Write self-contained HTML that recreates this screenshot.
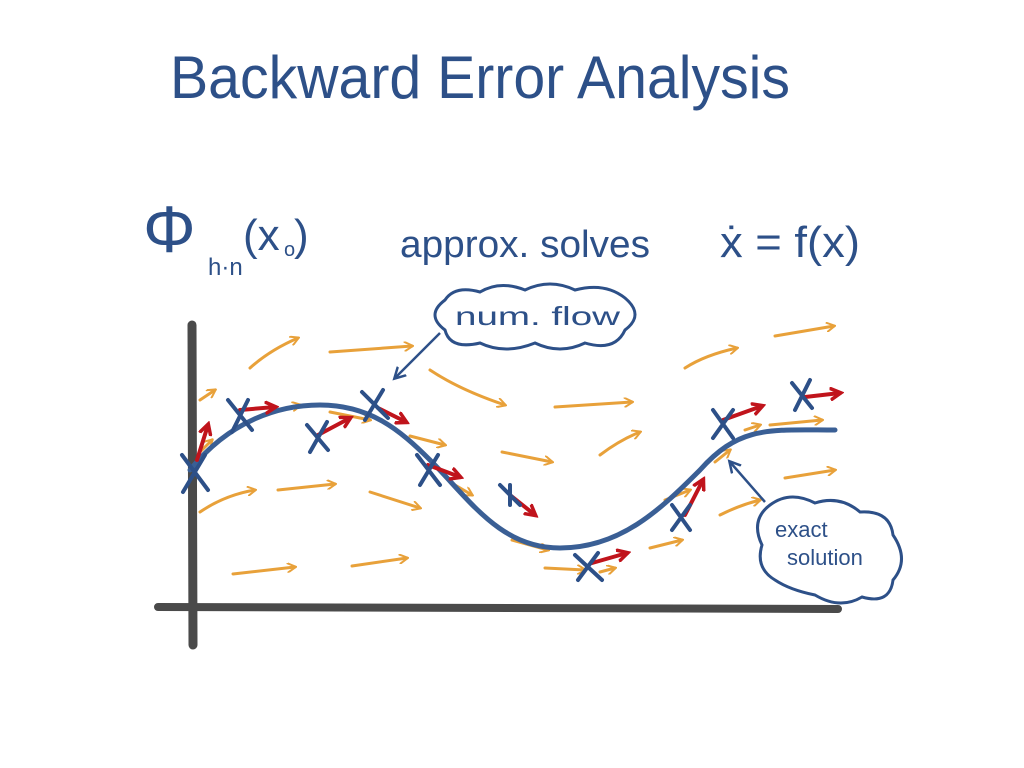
<!DOCTYPE html>
<html><head><meta charset="utf-8"><style>
html,body{margin:0;padding:0;background:#fff;}
svg{display:block;}
text{font-family:"Liberation Sans",sans-serif;fill:#2d5088;}
</style></head><body>
<svg width="1024" height="768" viewBox="0 0 1024 768" xmlns="http://www.w3.org/2000/svg">
<defs>
<marker id="oa" markerWidth="10" markerHeight="10" refX="8" refY="5" orient="auto" markerUnits="userSpaceOnUse"><path d="M0,0 L9,5 L0,10" fill="none" stroke="#e8a13a" stroke-width="2"/></marker>
<marker id="ra" markerWidth="14" markerHeight="14" refX="10" refY="7" orient="auto" markerUnits="userSpaceOnUse"><path d="M0,1 L11,7 L0,13" fill="none" stroke="#c0141c" stroke-width="3.5"/></marker>
<marker id="ba" markerWidth="14" markerHeight="14" refX="10" refY="7" orient="auto" markerUnits="userSpaceOnUse"><path d="M0,1 L11,7 L0,13" fill="none" stroke="#2d5088" stroke-width="2.5"/></marker>
</defs>
<text x="170" y="98" font-size="60" textLength="620" lengthAdjust="spacingAndGlyphs">Backward Error Analysis</text>
<text x="143" y="252" font-size="66">Φ</text>
<text x="208" y="275" font-size="24">h·n</text>
<text x="243" y="250" font-size="44">(x</text>
<text x="284" y="256" font-size="20">o</text>
<text x="294" y="250" font-size="44">)</text>
<text x="400" y="257" font-size="38" textLength="250" lengthAdjust="spacingAndGlyphs">approx. solves</text>
<text x="720" y="257" font-size="44" textLength="140" lengthAdjust="spacingAndGlyphs">ẋ = f(x)</text>
<path d="M192,325 L193,645" stroke="#4a4a4a" stroke-width="9" stroke-linecap="round"/>
<path d="M158,607 L838,609" stroke="#4a4a4a" stroke-width="8" stroke-linecap="round"/>
<g stroke="#e8a13a" stroke-width="3" fill="none" marker-end="url(#oa)" stroke-linecap="round">
<path d="M250,368 Q270,350 298,338"/>
<path d="M330,352 L412,346"/>
<path d="M200,400 L215,390"/>
<path d="M430,370 Q460,390 505,405"/>
<path d="M555,407 L632,402"/>
<path d="M685,368 Q705,355 737,348"/>
<path d="M775,336 L834,326"/>
<path d="M268,412 L300,405"/>
<path d="M330,412 L370,420"/>
<path d="M410,436 L445,445"/>
<path d="M200,452 L212,440"/>
<path d="M502,452 L552,462"/>
<path d="M600,455 Q620,440 640,432"/>
<path d="M785,478 L835,470"/>
<path d="M200,512 Q225,495 255,490"/>
<path d="M278,490 L335,484"/>
<path d="M370,492 L420,508"/>
<path d="M455,485 L472,495"/>
<path d="M512,540 L548,550"/>
<path d="M545,568 L585,570"/>
<path d="M650,548 L682,540"/>
<path d="M665,500 L690,490"/>
<path d="M715,462 L730,450"/>
<path d="M745,430 L760,425"/>
<path d="M770,425 L822,420"/>
<path d="M720,515 Q740,505 760,500"/>
<path d="M233,574 L295,567"/>
<path d="M352,566 L407,558"/>
<path d="M600,572 L615,568"/>
</g>
<path d="M190,470 C230,420 280,405 320,405 C370,405 400,430 430,460 C470,500 500,548 560,548 C620,548 660,510 700,470 C740,425 770,430 835,430" stroke="#3a5f95" stroke-width="5" fill="none" stroke-linecap="round"/>
<g stroke="#c0141c" stroke-width="4" fill="none" marker-end="url(#ra)" stroke-linecap="round">
<path d="M197,460 L208,425"/>
<path d="M240,410 L275,407"/>
<path d="M318,435 L350,418"/>
<path d="M378,408 L406,422"/>
<path d="M428,465 L460,477"/>
<path d="M510,495 L535,515"/>
<path d="M592,563 L627,553"/>
<path d="M685,515 L703,480"/>
<path d="M723,420 L762,406"/>
<path d="M805,397 L840,393"/>
</g>
<g stroke="#2d5088" stroke-width="4" stroke-linecap="round">
<path d="M182,455 L208,490 M205,455 L183,492"/>
<path d="M228,400 L252,430 M248,400 L232,432"/>
<path d="M307,425 L328,450 M327,422 L310,452"/>
<path d="M362,392 L388,418 M383,390 L365,420"/>
<path d="M417,455 L440,485 M438,455 L420,485"/>
<path d="M500,485 L520,505 M510,485 L510,505"/>
<path d="M575,555 L602,580 M598,553 L578,580"/>
<path d="M672,505 L690,530 M690,505 L672,530"/>
<path d="M713,410 L733,438 M733,410 L713,438"/>
<path d="M792,383 L812,408 M810,380 L795,410"/>
</g>
<path d="M445,300 Q455,285 480,292 Q500,280 525,290 Q550,278 575,290 Q605,282 625,298 Q645,315 625,330 Q615,352 585,343 Q560,355 535,343 Q505,355 480,343 Q450,350 445,330 Q425,315 445,300 Z" fill="none" stroke="#2d5088" stroke-width="3"/>
<text x="455" y="325" font-size="26" textLength="165" lengthAdjust="spacingAndGlyphs">num. flow</text>
<path d="M440,333 L395,378" stroke="#2d5088" stroke-width="2.5" marker-end="url(#ba)"/>
<path d="M770,505 Q790,490 815,503 Q840,495 860,512 Q890,510 893,535 Q910,560 893,580 Q890,605 862,597 Q840,610 815,595 Q790,590 775,580 Q755,568 762,545 Q750,520 770,505 Z" fill="none" stroke="#2d5088" stroke-width="3"/>
<text x="775" y="537" font-size="22">exact</text>
<text x="787" y="565" font-size="22">solution</text>
<path d="M765,502 L730,462" stroke="#2d5088" stroke-width="2.5" marker-end="url(#ba)"/>
</svg>
</body></html>
